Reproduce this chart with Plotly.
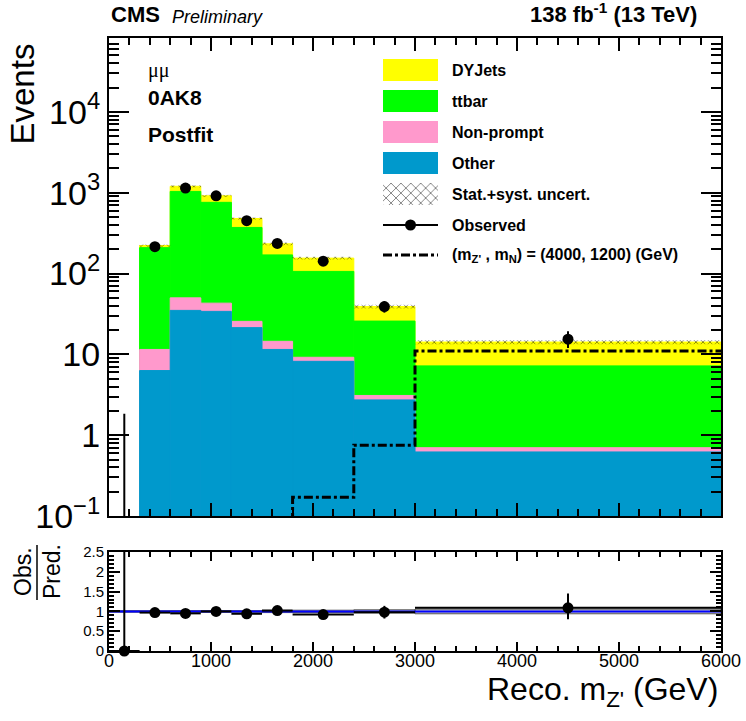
import plotly.graph_objects as go

# ---------------- data ----------------
bin_edges = [0, 300, 600, 900, 1200, 1500, 1800, 2400, 3000, 6000]
# stacked backgrounds (bins from 300 GeV on)
other = [6.3, 35, 34, 21.4, 11.5, 8.2, 2.73, 0.62]
nonprompt = [5.2, 15, 9, 4.2, 3.0, 1.0, 0.37, 0.08]
ttbar = [197.5, 987, 717, 346, 155.5, 97, 22.7, 6.5]
dyjets = [13, 163, 155, 108, 63, 49, 13.2, 7.0]
unc_rel = [0.03, 0.03, 0.03, 0.03, 0.04, 0.04, 0.05, 0.06]
# observed (all bins)
observed = [0, 215, 1140, 915, 450, 236, 142, 39, 15.4]
obs_err_up = [1.84, 14.7, 33.8, 30.2, 21.2, 15.4, 11.9, 6.2, 3.9]
obs_err_dn = [0, 14.7, 33.8, 30.2, 21.2, 15.4, 11.9, 6.2, 3.4]
# signal (m_Z', m_N) = (4000, 1200)
signal = [0.02, 0.02, 0.02, 0.02, 0.02, 0.02, 0.17, 0.75, 11.0]
# ratio panel
ratio = [0, 0.97, 0.95, 1.0, 0.94, 1.02, 0.92, 0.98, 1.09]
ratio_err_up = [2.5, 0.07, 0.03, 0.04, 0.05, 0.07, 0.08, 0.16, 0.36]
ratio_err_dn = [0, 0.07, 0.03, 0.04, 0.05, 0.07, 0.08, 0.16, 0.29]
ratio_unc = [0.02, 0.02, 0.02, 0.02, 0.02, 0.03, 0.03, 0.04, 0.06]

y_ticks = [0.1, 1, 10, 100, 1000, 10000]
y_ticktext = ["10<sup>−1</sup>", "1", "10", "10<sup>2</sup>", "10<sup>3</sup>", "10<sup>4</sup>"]
r_ticks = [0, 0.5, 1, 1.5, 2, 2.5]
r_ticktext = ["0", "0.5", "1", "1.5", "2", "2.5"]

legend_labels = ["DYJets", "ttbar", "Non-prompt", "Other", "Stat.+syst. uncert.", "Observed",
                 "(m<sub>Z'</sub> , m<sub>N</sub>) = (4000, 1200) (GeV)"]

# ---------------- derived ----------------
W, H = 746, 721
centers = [(a + b) / 2 for a, b in zip(bin_edges[:-1], bin_edges[1:])]
widths = [b - a for a, b in zip(bin_edges[:-1], bin_edges[1:])]
halfw = [w / 2 for w in widths]
sc = centers[1:]
sw = widths[1:]

c_other = other
c_np = [a + b for a, b in zip(c_other, nonprompt)]
c_tt = [a + b for a, b in zip(c_np, ttbar)]
c_dy = [a + b for a, b in zip(c_tt, dyjets)]

COL = {"DYJets": "#ffff00", "ttbar": "#00ff00", "Non-prompt": "#ff99cc", "Other": "#0099cc"}
FONT = "Liberation Sans, Arial, Helvetica, sans-serif"


def px(x):
    return x / W


def py(y):
    return 1 - y / H


fig = go.Figure()

# stacked backgrounds drawn as cumulative overlays
for name, vals in [("DYJets", c_dy), ("ttbar", c_tt), ("Non-prompt", c_np), ("Other", c_other)]:
    fig.add_trace(go.Bar(x=sc, y=vals, width=sw, marker=dict(color=COL[name], line=dict(width=1, color=COL[name])),
                         showlegend=False, xaxis="x", yaxis="y"))

# uncertainty hatch
fig.add_trace(go.Bar(
    x=sc, y=[t * 2 * u for t, u in zip(c_dy, unc_rel)], base=[t * (1 - u) for t, u in zip(c_dy, unc_rel)],
    width=sw, showlegend=False, xaxis="x", yaxis="y",
    marker=dict(color="rgba(0,0,0,0)", line=dict(width=0),
                pattern=dict(shape="x", fgcolor="black", bgcolor="rgba(0,0,0,0)", size=5, solidity=0.3))))

# signal step
fig.add_trace(go.Scatter(x=bin_edges, y=signal + [signal[-1]], mode="lines", line_shape="hv",
                         line=dict(color="black", width=3, dash="dashdot"), showlegend=False,
                         xaxis="x", yaxis="y"))

# observed
fig.add_trace(go.Scatter(x=sc, y=observed[1:], mode="markers", marker=dict(color="black", size=11),
                         error_y=dict(type="data", symmetric=False, array=obs_err_up[1:],
                                      arrayminus=obs_err_dn[1:], color="black", thickness=2, width=0),
                         showlegend=False, xaxis="x", yaxis="y"))
fig.add_trace(go.Scatter(x=[centers[0], centers[0]], y=[0.001, observed[0] + obs_err_up[0]], mode="lines",
                         line=dict(color="black", width=2), showlegend=False, xaxis="x", yaxis="y"))

# ratio panel
fig.add_trace(go.Bar(x=centers, y=[2 * u for u in ratio_unc], base=[1 - u for u in ratio_unc], width=widths,
                     marker=dict(color="rgba(150,150,150,0.6)", line=dict(width=1, color="#555555")),
                     showlegend=False, xaxis="x2", yaxis="y2"))
fig.add_trace(go.Scatter(x=[bin_edges[0], bin_edges[-1]], y=[1, 1], mode="lines",
                         line=dict(color="blue", width=2), showlegend=False, xaxis="x2", yaxis="y2"))
fig.add_trace(go.Scatter(x=centers, y=ratio, mode="markers", marker=dict(color="black", size=11),
                         error_y=dict(type="data", symmetric=False, array=ratio_err_up, arrayminus=ratio_err_dn,
                                      color="black", thickness=2, width=0),
                         error_x=dict(type="data", array=halfw, color="black", thickness=2, width=0),
                         cliponaxis=False, showlegend=False, xaxis="x2", yaxis="y2"))

# ---------------- legend (pixel overlay axis) ----------------
sw_x0, sw_x1, txt_x = 383, 438, 450
rows = [70, 101, 132, 163, 194, 225, 255]
shapes = []
for lab, yy in zip(legend_labels[:4], rows[:4]):
    shapes.append(dict(type="rect", xref="x3", yref="y3", x0=sw_x0, x1=sw_x1, y0=yy - 11, y1=yy + 11,
                       fillcolor=COL[lab], line=dict(width=0), layer="above"))
hy = rows[4]
fig.add_trace(go.Scatter(x=[sw_x0, sw_x1, sw_x1, sw_x0, sw_x0], y=[hy - 11, hy - 11, hy + 11, hy + 11, hy - 11],
                         mode="lines", fill="toself", line=dict(width=0), fillcolor="rgba(0,0,0,0)",
                         fillpattern=dict(shape="x", fgcolor="black", bgcolor="white", size=7, solidity=0.25),
                         showlegend=False, xaxis="x3", yaxis="y3", hoverinfo="skip"))
oy = rows[5]
fig.add_trace(go.Scatter(x=[sw_x0, sw_x1], y=[oy, oy], mode="lines", line=dict(color="black", width=2),
                         showlegend=False, xaxis="x3", yaxis="y3"))
fig.add_trace(go.Scatter(x=[(sw_x0 + sw_x1) / 2], y=[oy], mode="markers", marker=dict(color="black", size=11),
                         showlegend=False, xaxis="x3", yaxis="y3"))
sy = rows[6]
fig.add_trace(go.Scatter(x=[sw_x0, sw_x1], y=[sy, sy], mode="lines",
                         line=dict(color="black", width=3, dash="dashdot"),
                         showlegend=False, xaxis="x3", yaxis="y3"))

annotations = []
for lab, yy in zip(legend_labels, rows):
    annotations.append(dict(xref="x3", yref="y3", x=txt_x, y=yy, text="<b>" + lab + "</b>", showarrow=False,
                            xanchor="left", yanchor="middle", font=dict(size=16, family=FONT, color="black")))

# texts
annotations += [
    dict(xref="paper", yref="paper", x=px(109), y=py(29), text="<b>CMS</b>", showarrow=False,
         xanchor="left", yanchor="bottom", font=dict(size=22, family=FONT, color="black")),
    dict(xref="paper", yref="paper", x=px(170), y=py(29), text="<i>Preliminary</i>", showarrow=False,
         xanchor="left", yanchor="bottom", font=dict(size=18, family=FONT, color="black")),
    dict(xref="paper", yref="paper", x=px(699), y=py(29), text="<b>138 fb<sup>-1</sup> (13 TeV)</b>",
         showarrow=False, xanchor="right", yanchor="bottom", font=dict(size=22, family=FONT, color="black")),
    dict(xref="paper", yref="paper", x=px(146), y=py(71), text="μμ", showarrow=False,
         xanchor="left", yanchor="middle", font=dict(size=20, family="Liberation Serif, Times New Roman, serif",
                                                     color="black")),
    dict(xref="paper", yref="paper", x=px(146), y=py(98), text="<b>0AK8</b>", showarrow=False,
         xanchor="left", yanchor="middle", font=dict(size=21, family=FONT, color="black")),
    dict(xref="paper", yref="paper", x=px(146), y=py(134), text="<b>Postfit</b>", showarrow=False,
         xanchor="left", yanchor="middle", font=dict(size=21, family=FONT, color="black")),
    dict(xref="paper", yref="paper", x=px(22), y=py(42), text="Events", textangle=-90, showarrow=False,
         xanchor="center", yanchor="top", font=dict(size=33, family=FONT, color="black")),
    dict(xref="paper", yref="paper", x=px(720), y=py(714), text="Reco. m<sub>Z'</sub> (GeV)", showarrow=False,
         xanchor="right", yanchor="bottom", font=dict(size=32, family=FONT, color="black")),
    dict(xref="paper", yref="paper", x=px(23), y=py(572), text="Obs.", textangle=-90, showarrow=False,
         xanchor="center", yanchor="middle", font=dict(size=23, family=FONT, color="black")),
    dict(xref="paper", yref="paper", x=px(52), y=py(572), text="Pred.", textangle=-90, showarrow=False,
         xanchor="center", yanchor="middle", font=dict(size=23, family=FONT, color="black")),
]
shapes.append(dict(type="line", xref="paper", yref="paper", x0=px(37), x1=px(37), y0=py(545), y1=py(600),
                   line=dict(color="black", width=1.5)))

x_l, x_r = 109, 721
axis_common = dict(showline=True, linewidth=2, linecolor="black", mirror="allticks", ticks="inside",
                   tickcolor="black", tickwidth=1.5, showgrid=False, zeroline=False, automargin=False)

minor_log = [m * 10 ** k for k in range(-1, 5) for m in range(2, 10)]

fig.update_layout(
    width=W, height=H, margin=dict(l=0, r=0, t=0, b=0, pad=0, autoexpand=False),
    paper_bgcolor="white", plot_bgcolor="rgba(0,0,0,0)", barmode="overlay", showlegend=False,
    font=dict(family=FONT, color="black"),
    xaxis=dict(domain=[px(x_l), px(x_r)], anchor="y", range=[0, 6000], dtick=1000, tick0=0, ticklen=13,
               showticklabels=False, minor=dict(ticks="inside", dtick=200, ticklen=7, tickcolor="black"),
               **axis_common),
    yaxis=dict(domain=[py(516), py(38)], anchor="x", type="log", range=[-1, 4.914], tickmode="array",
               tickvals=y_ticks, ticktext=y_ticktext, ticklen=20, tickfont=dict(size=34, family=FONT),
               minor=dict(ticks="inside", tickmode="array", tickvals=minor_log, ticklen=10, tickcolor="black"),
               **axis_common),
    xaxis2=dict(domain=[px(x_l), px(x_r)], anchor="y2", range=[0, 6000], dtick=1000, tick0=0, ticklen=9,
                tickfont=dict(size=18, family=FONT), ticklabelstandoff=-8,
                minor=dict(ticks="inside", dtick=200, ticklen=5, tickcolor="black"), **axis_common),
    yaxis2=dict(domain=[py(651), py(552)], anchor="x2", range=[0, 2.5], tickmode="array", tickvals=r_ticks,
                ticktext=r_ticktext, ticklen=11, tickfont=dict(size=15, family=FONT),
                minor=dict(ticks="inside", dtick=0.1, ticklen=5, tickcolor="black"), **axis_common),
    xaxis3=dict(domain=[0, 1], anchor="y3", range=[0, W], visible=False, fixedrange=True, automargin=False),
    yaxis3=dict(domain=[0, 1], anchor="x3", range=[H, 0], visible=False, fixedrange=True, automargin=False),
    shapes=shapes, annotations=annotations,
)

fig.write_html("out.html")
